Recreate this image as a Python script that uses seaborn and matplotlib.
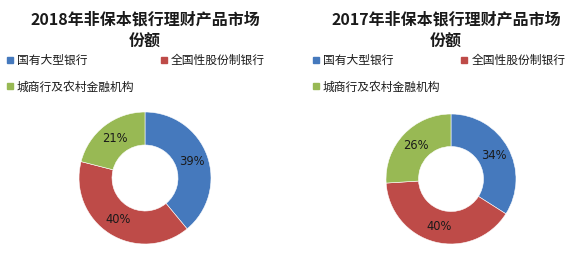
import matplotlib
matplotlib.use("Agg")
import matplotlib.pyplot as plt
import seaborn as sns
from matplotlib.lines import Line2D

sns.set_theme(style="white")
plt.rcParams['font.family'] = ['Noto Sans CJK SC', 'DejaVu Sans']

categories = ["国有大型银行", "全国性股份制银行", "城商行及农村金融机构"]
values_2018 = [39, 40, 21]
values_2017 = [34, 40, 26]
titles = ["2018年非保本银行理财产品市场\n份额", "2017年非保本银行理财产品市场\n份额"]
colors = ["#4579bd", "#be4b48", "#98b954"]

W, H = 580, 259
fig = plt.figure(figsize=(W / 100, H / 100), dpi=100)
fig.patch.set_facecolor("white")

def fx(px):
    return px / W

def fy(py):
    return 1 - py / H

panels = [
    dict(vals=values_2018, title=titles[0], cx=145, cy=178, r=66, tx=145, lx=6, cs=2.2),
    dict(vals=values_2017, title=titles[1], cx=451, cy=179, r=65, tx=446, lx=312, cs=1.75),
]

for p in panels:
    r = p["r"]
    ax = fig.add_axes([fx(p["cx"] - r), fy(p["cy"] + r), fx(2 * r), (2 * r) / H])
    wedges, texts = ax.pie(
        p["vals"], colors=colors, startangle=90, counterclock=False,
        radius=1.0, wedgeprops=dict(width=0.5, edgecolor="white", linewidth=0.4),
        labels=[f"{v}%" for v in p["vals"]], labeldistance=0.75,
        textprops=dict(fontsize=8.3, color="#1a1a1a", ha="center", va="center",
                       family=['DejaVu Sans']),
    )
    ax.set_xlim(-1, 1)
    ax.set_ylim(-1, 1)
    ax.set_aspect("equal")
    ax.axis("off")

    fig.text(fx(p["tx"]), fy(11), p["title"], ha="center", va="top",
             fontsize=11.5, fontweight="bold", linespacing=1.5, color="#1a1a1a")

    handles = [Line2D([0], [0], marker="s", linestyle="", markersize=4,
                      markerfacecolor=c, markeredgecolor=c) for c in colors]
    order = [0, 2, 1]
    fig.legend([handles[i] for i in order], [categories[i] for i in order],
               loc="upper left", bbox_to_anchor=(fx(p["lx"]), fy(54)),
               ncol=2, frameon=False, fontsize=8.5, handlelength=0.6,
               handletextpad=0.3, columnspacing=p["cs"], labelspacing=1.15,
               borderaxespad=0, borderpad=0, labelcolor="#1a1a1a")

fig.savefig("out.png", dpi=100, facecolor="white")
